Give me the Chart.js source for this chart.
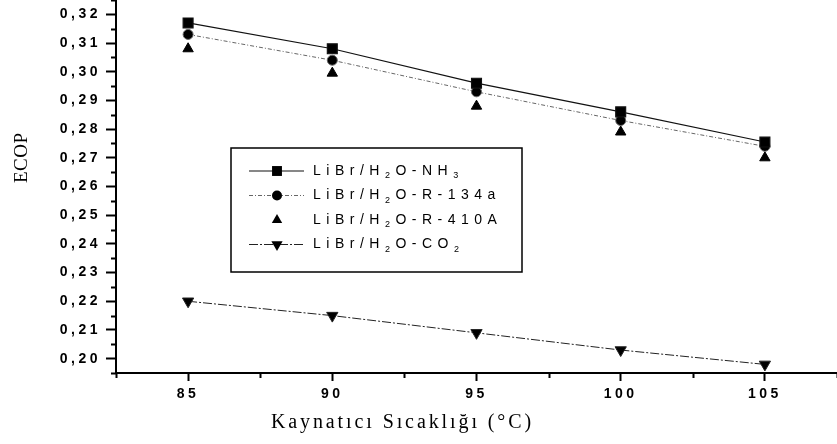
<!DOCTYPE html>
<html>
<head>
<meta charset="utf-8">
<script src="https://cdn.jsdelivr.net/npm/chart.js@4.4.1/dist/chart.umd.min.js"></script>
<style>
  body { margin: 0; background: #fff; }
  #wrap { width: 837px; height: 444px; }
</style>
</head>
<body>
<div id="wrap"><canvas id="ecopChart"></canvas></div>
<script>
// Values

const temps = [85, 90, 95, 100, 105];

const nh3   = [0.317, 0.308, 0.296, 0.286, 0.2755];
const r134a = [0.313, 0.304, 0.293, 0.283, 0.274];
const r410a = [0.308, 0.2995, 0.288, 0.279, 0.270];
const co2   = [0.220, 0.215, 0.209, 0.203, 0.198];

const seriesNames = ["LiBr/H₂O-NH₃", "LiBr/H₂O-R-134a", "LiBr/H₂O-R-410A", "LiBr/H₂O-CO₂"];

const xTicks = [85, 90, 95, 100, 105];
const yTicks = [0.20, 0.21, 0.22, 0.23, 0.24, 0.25, 0.26, 0.27, 0.28, 0.29, 0.30, 0.31, 0.32];

const xTitle = "Kaynatıcı Sıcaklığı (°C)";
const yTitle = "ECOP";

const toPoints = arr => arr.map((v, i) => ({ x: temps[i], y: v }));

// Minor ticks sit halfway between the labelled ones
function minorTicks(major) {
  const step = major[1] - major[0];
  const out = [major[0] - step / 2];
  major.forEach(v => out.push(v + step / 2));
  return out;
}

// Text helper: manual letter spacing, unicode subscript digits drawn small and lowered
const subDigits = "₀₁₂₃₄₅₆₇₈₉";

function spacedWidth(ctx, text, font, subFont, spacing) {
  let w = 0;
  for (const ch of text) {
    const k = subDigits.indexOf(ch);
    ctx.font = k >= 0 ? subFont : font;
    w += ctx.measureText(k >= 0 ? String(k) : ch).width + spacing;
  }
  return w - spacing;
}

function drawSpaced(ctx, text, x, y, font, subFont, spacing, subShift) {
  let cx = x;
  for (const ch of text) {
    const k = subDigits.indexOf(ch);
    const s = k >= 0 ? String(k) : ch;
    ctx.font = k >= 0 ? subFont : font;
    ctx.fillText(s, cx, k >= 0 ? y + subShift : y);
    cx += ctx.measureText(s).width + spacing;
  }
}

const decorations = {
  id: "decorations",
  beforeDraw(chart) {
    chart.ctx.letterSpacing = "3.5px";
  },
  afterDraw(chart) {
    const ctx = chart.ctx;
    const area = chart.chartArea;
    const xs = chart.scales.x;
    const ys = chart.scales.y;

    ctx.save();
    ctx.letterSpacing = "0px";

    // minor ticks
    ctx.strokeStyle = "#000";
    ctx.lineWidth = 2;
    ctx.beginPath();
    minorTicks(yTicks).forEach(v => {
      const py = Math.round(ys.getPixelForValue(v)) + 0.5;
      ctx.moveTo(area.left - 5, py);
      ctx.lineTo(area.left, py);
    });
    minorTicks(xTicks).forEach(v => {
      const px = Math.round(xs.getPixelForValue(v)) + 0.5;
      ctx.moveTo(px, area.bottom);
      ctx.lineTo(px, area.bottom + 5);
    });
    ctx.stroke();

    // axis titles
    ctx.fillStyle = "#000";
    ctx.textBaseline = "middle";
    ctx.textAlign = "left";

    const tFont = '20px "Liberation Serif"';
    const tw = spacedWidth(ctx, xTitle, tFont, tFont, 2.9);
    drawSpaced(ctx, xTitle, 401 - tw / 2, 423, tFont, tFont, 2.9, 0);

    ctx.save();
    ctx.translate(22, 158);
    ctx.rotate(-Math.PI / 2);
    const eFont = '19px "Liberation Serif"';
    const ew = spacedWidth(ctx, yTitle, eFont, eFont, 0.5);
    drawSpaced(ctx, yTitle, -ew / 2, 0, eFont, eFont, 0.5, 0);
    ctx.restore();

    // legend box
    const box = { left: 231, top: 148, width: 291, height: 124, firstRow: 171, rowGap: 24.5 };
    ctx.fillStyle = "#fff";
    ctx.fillRect(box.left, box.top, box.width, box.height);
    ctx.strokeStyle = "#000";
    ctx.lineWidth = 1.5;
    ctx.strokeRect(box.left, box.top, box.width, box.height);

    chart.data.datasets.forEach((ds, i) => {
      const y = box.firstRow + i * box.rowGap;
      if (ds.showLine !== false) {
        ctx.setLineDash(ds.borderDash || []);
        ctx.lineWidth = ds.borderWidth;
        ctx.strokeStyle = ds.borderColor;
        ctx.beginPath();
        ctx.moveTo(249, y);
        ctx.lineTo(304, y);
        ctx.stroke();
      }
      ctx.setLineDash([]);
      ctx.fillStyle = "#000";
      Chart.helpers.drawPoint(ctx, {
        pointStyle: ds.pointStyle,
        rotation: ds.pointRotation || 0,
        radius: ds.pointRadius,
        borderWidth: 0
      }, 277, y);
      drawSpaced(ctx, ds.label, 313, y, '14px "Liberation Sans"', '9px "Liberation Sans"', 5.5, 5);
    });

    ctx.restore();
  }
};

const ctx = document.getElementById("ecopChart");

new Chart(ctx, {
  type: "line",
  data: {
    datasets: [
      {
        label: seriesNames[0],
        data: toPoints(nh3),
        borderColor: "#111",
        borderWidth: 1.2,
        pointStyle: "rect",
        pointRadius: 7
      },
      {
        label: seriesNames[1],
        data: toPoints(r134a),
        borderColor: "#666",
        borderWidth: 1,
        borderDash: [4, 2, 1, 2],
        pointStyle: "circle",
        pointRadius: 5
      },
      {
        label: seriesNames[2],
        data: toPoints(r410a),
        showLine: false,
        borderColor: "#000",
        borderWidth: 1,
        pointStyle: "triangle",
        pointRadius: 6
      },
      {
        label: seriesNames[3],
        data: toPoints(co2),
        borderColor: "#222",
        borderWidth: 1,
        borderDash: [9, 2, 2, 2],
        pointStyle: "triangle",
        pointRotation: 180,
        pointRadius: 6.5
      }
    ]
  },
  options: {
    responsive: true,
    maintainAspectRatio: false,
    animation: false,
    layout: { padding: 0, autoPadding: false },
    elements: {
      line: { tension: 0, fill: false },
      point: { backgroundColor: "#000", borderWidth: 0, hoverRadius: 6 }
    },
    plugins: {
      legend: { display: false },
      tooltip: { enabled: false }
    },
    scales: {
      x: {
        type: "linear",
        min: 82.5,
        max: 107.5,
        afterBuildTicks: scale => { scale.ticks = xTicks.map(v => ({ value: v })); },
        afterFit: scale => {
          scale.height = 71;
          scale.paddingLeft = 0;
          scale.paddingRight = 0;
        },
        border: { color: "#000", width: 2 },
        grid: { drawOnChartArea: false, drawTicks: true, tickLength: 8, tickWidth: 2, tickColor: "#000" },
        ticks: {
          autoSkip: false,
          maxRotation: 0,
          padding: 5,
          color: "#000",
          font: { family: "Liberation Sans", size: 14, weight: "bold" },
          callback: v => String(v)
        }
      },
      y: {
        min: 0.195,
        max: 0.325,
        afterBuildTicks: scale => { scale.ticks = yTicks.map(v => ({ value: v })); },
        afterFit: scale => {
          scale.width = 116;
          scale.paddingTop = 0;
          scale.paddingBottom = 0;
        },
        border: { color: "#000", width: 2 },
        grid: { drawOnChartArea: false, drawTicks: true, tickLength: 10, tickWidth: 2, tickColor: "#000" },
        ticks: {
          autoSkip: false,
          padding: 5,
          color: "#000",
          font: { family: "Liberation Sans", size: 14, weight: "bold" },
          callback: v => v.toFixed(2).replace(".", ",")
        }
      }
    }
  },
  plugins: [decorations]
});
</script>
</body>
</html>
